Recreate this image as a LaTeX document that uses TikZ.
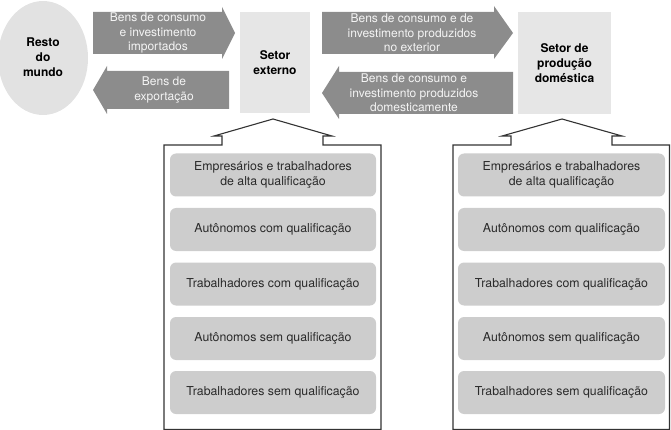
\documentclass[tikz,border=0pt]{standalone}
\usepackage{fontspec}
\setmainfont{TeX Gyre Heros}
\usetikzlibrary{shapes.geometric}
\definecolor{arrowgray}{HTML}{8C8C8C}
\definecolor{arrowtext}{HTML}{F4F4F4}
\definecolor{boxlight}{HTML}{E6E6E6}
\definecolor{ellgray}{HTML}{E2E2E2}
\definecolor{innergray}{HTML}{CDCDCD}
\definecolor{txtdark}{HTML}{2A2A2A}
\definecolor{linegray}{HTML}{333333}
\begin{document}
\begin{tikzpicture}[x=1pt,y=-1pt,
  txt/.style={font=\fontsize{12}{14.5}\selectfont, align=center, inner sep=0pt},
  arrowshape/.style={fill=arrowgray, draw=none},
  arrowlabel/.style={txt, text=arrowtext},
  sector/.style={txt, font=\fontsize{12}{15}\selectfont\bfseries, fill=boxlight, text=black},
  calloutbox/.style={draw=linegray, line width=1.1pt, line join=miter},
  innerbox/.style={txt, font=\fontsize{12.3}{15}\selectfont, text=txtdark, fill=innergray, rounded corners=6pt, minimum height=43pt}
]
\useasboundingbox (0,0) rectangle (671,430);

% Resto do mundo
\node[ellipse, fill=ellgray, minimum width=90pt, minimum height=114pt, inner sep=0pt] (resto) at (43,58) {};
\node[txt, font=\fontsize{12}{15}\selectfont\bfseries] (restotxt) at (43,57) {Resto\\do\\mundo};

% Sector boxes
\node[sector, minimum width=70pt, minimum height=101pt] (externo) at (275,62.5) {Setor\\externo};
\node[sector, minimum width=93pt, minimum height=102pt] (domestica) at (564.5,63) {Setor de\\produção\\doméstica};

% Block arrows
\fill[arrowshape] (93,12) -- (222,12) -- (222,7) -- (235,33) -- (222,59) -- (222,54) -- (93,54) -- cycle;
\node[arrowlabel] (imp) at (158,33) {Bens de consumo\\e investimento\\importados};

\fill[arrowshape] (229,71) -- (107,71) -- (107,66) -- (93,90) -- (107,114) -- (107,109) -- (229,109) -- cycle;
\node[arrowlabel] (exp) at (164,90) {Bens de\\exportação};

\fill[arrowshape] (322,12) -- (494,12) -- (494,6) -- (513,33) -- (494,59) -- (494,54) -- (322,54) -- cycle;
\node[arrowlabel] (ext) at (412,33) {Bens de consumo e de\\investimento produzidos\\no exterior};

\fill[arrowshape] (513,72) -- (339,72) -- (339,66) -- (322,93) -- (339,119) -- (339,114) -- (513,114) -- cycle;
\node[arrowlabel] (dom) at (414,93) {Bens de consumo e\\investimento produzidos\\domesticamente};

% Callouts
\draw[calloutbox] (164,429.5) -- (164,145) -- (222,145) -- (222,136) -- (214,136) -- (273,119)
  -- (332,136) -- (323,136) -- (323,145) -- (381,145) -- (381,429.5) -- cycle;
\draw[calloutbox] (453,429.5) -- (453,145) -- (511,145) -- (511,136) -- (502,136) -- (562,119)
  -- (622,136) -- (612,136) -- (612,145) -- (669.5,145) -- (669.5,429.5) -- cycle;

% Left inner boxes
\node[innerbox, minimum width=206pt] (l1) at (273,175) {Empresários e trabalhadores\\de alta qualificação};
\node[innerbox, minimum width=206pt] (l2) at (273,229.5) {Autônomos com qualificação};
\node[innerbox, minimum width=206pt] (l3) at (273,284) {Trabalhadores com qualificação};
\node[innerbox, minimum width=206pt] (l4) at (273,338.5) {Autônomos sem qualificação};
\node[innerbox, minimum width=206pt] (l5) at (273,392.5) {Trabalhadores sem qualificação};

% Right inner boxes
\node[innerbox, minimum width=207pt] (r1) at (561.5,175) {Empresários e trabalhadores\\de alta qualificação};
\node[innerbox, minimum width=207pt] (r2) at (561.5,229.5) {Autônomos com qualificação};
\node[innerbox, minimum width=207pt] (r3) at (561.5,284) {Trabalhadores com qualificação};
\node[innerbox, minimum width=207pt] (r4) at (561.5,338.5) {Autônomos sem qualificação};
\node[innerbox, minimum width=207pt] (r5) at (561.5,392.5) {Trabalhadores sem qualificação};
\end{tikzpicture}
\end{document}
